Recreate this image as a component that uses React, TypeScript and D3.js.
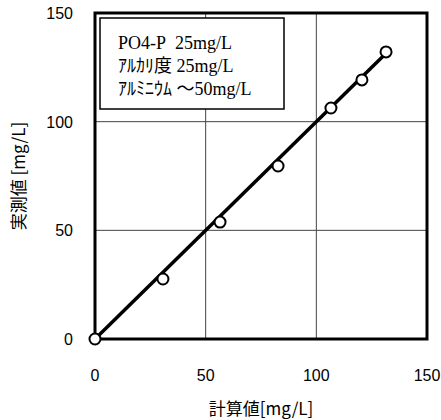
import React from "react";
import * as d3 from "d3";

const calcValues = [0, 30.7, 56.5, 82.7, 106.6, 120.6, 131.5];
const measValues = [0, 27.6, 53.8, 79.6, 106.3, 119.2, 132.1];
const lineX = [0, 133];
const xTicks = [0, 50, 100, 150];
const yTicks = [0, 50, 100, 150];
const legendLines = ["PO4-P\u00a0\u00a025mg/L", "ｱﾙｶﾘ度 25mg/L", "ｱﾙﾐﾆｳﾑ ～50mg/L"];
const xTitle = "計算値[mg/L]";
const yTitle = "実測値 [mg/L]";

export default function App() {
  const W = 441, H = 420;
  const left = 95, right = 427, top = 13, bottom = 339;
  const x = d3.scaleLinear().domain([0, 150]).range([left, right]);
  const y = d3.scaleLinear().domain([0, 150]).range([bottom, top]);
  const line = d3.line<number>().x((d) => x(d)).y((d) => y(d));
  const sans = "'Liberation Sans', Arial, sans-serif";
  const serif = "'Liberation Serif', 'Times New Roman', 'Noto Sans CJK JP', serif";
  return (
    <svg width={W} height={H} style={{ position: "absolute", left: 0, top: 0, background: "#fff" }}>
      <rect width={W} height={H} fill="#fff" />
      {xTicks.slice(1, -1).map((t) => (
        <line key={"gx" + t} x1={x(t)} x2={x(t)} y1={top} y2={bottom} stroke="#444" strokeWidth={1} />
      ))}
      {yTicks.slice(1, -1).map((t) => (
        <line key={"gy" + t} y1={y(t)} y2={y(t)} x1={left} x2={right} stroke="#444" strokeWidth={1} />
      ))}
      <rect x={left} y={top} width={right - left} height={bottom - top} fill="none" stroke="#000" strokeWidth={3} />
      {/* legend box */}
      <rect x={100} y={18} width={184} height={91} fill="#fff" stroke="#000" strokeWidth={1.5} />
      {legendLines.map((s, i) => (
        <text key={i} x={118} y={49 + i * 23} fontFamily={serif} fontSize={18} fill="#000">
          {s}
        </text>
      ))}
      <path d={line(lineX) || ""} fill="none" stroke="#000" strokeWidth={3.5} />
      {calcValues.map((c, i) => (
        <circle key={i} cx={x(c)} cy={y(measValues[i])} r={5.5} fill="#fff" stroke="#000" strokeWidth={2} />
      ))}
      {xTicks.map((t) => (
        <text key={"xt" + t} x={x(t)} y={381} textAnchor="middle" fontFamily={sans} fontSize={16} fill="#000">
          {t}
        </text>
      ))}
      {yTicks.map((t) => (
        <text key={"yt" + t} x={73} y={y(t) + 6} textAnchor="end" fontFamily={sans} fontSize={16} fill="#000">
          {t}
        </text>
      ))}
      <text x={(left + right) / 2} y={415} textAnchor="middle" fontFamily="'Noto Sans CJK JP', sans-serif" fontSize={17} fill="#000">
        {xTitle}
      </text>
      <text
        transform={`translate(25, ${(top + bottom) / 2}) rotate(-90)`}
        textAnchor="middle"
        fontFamily="'Noto Sans CJK JP', sans-serif"
        fontSize={17}
        fill="#000"
      >
        {yTitle}
      </text>
    </svg>
  );
}
